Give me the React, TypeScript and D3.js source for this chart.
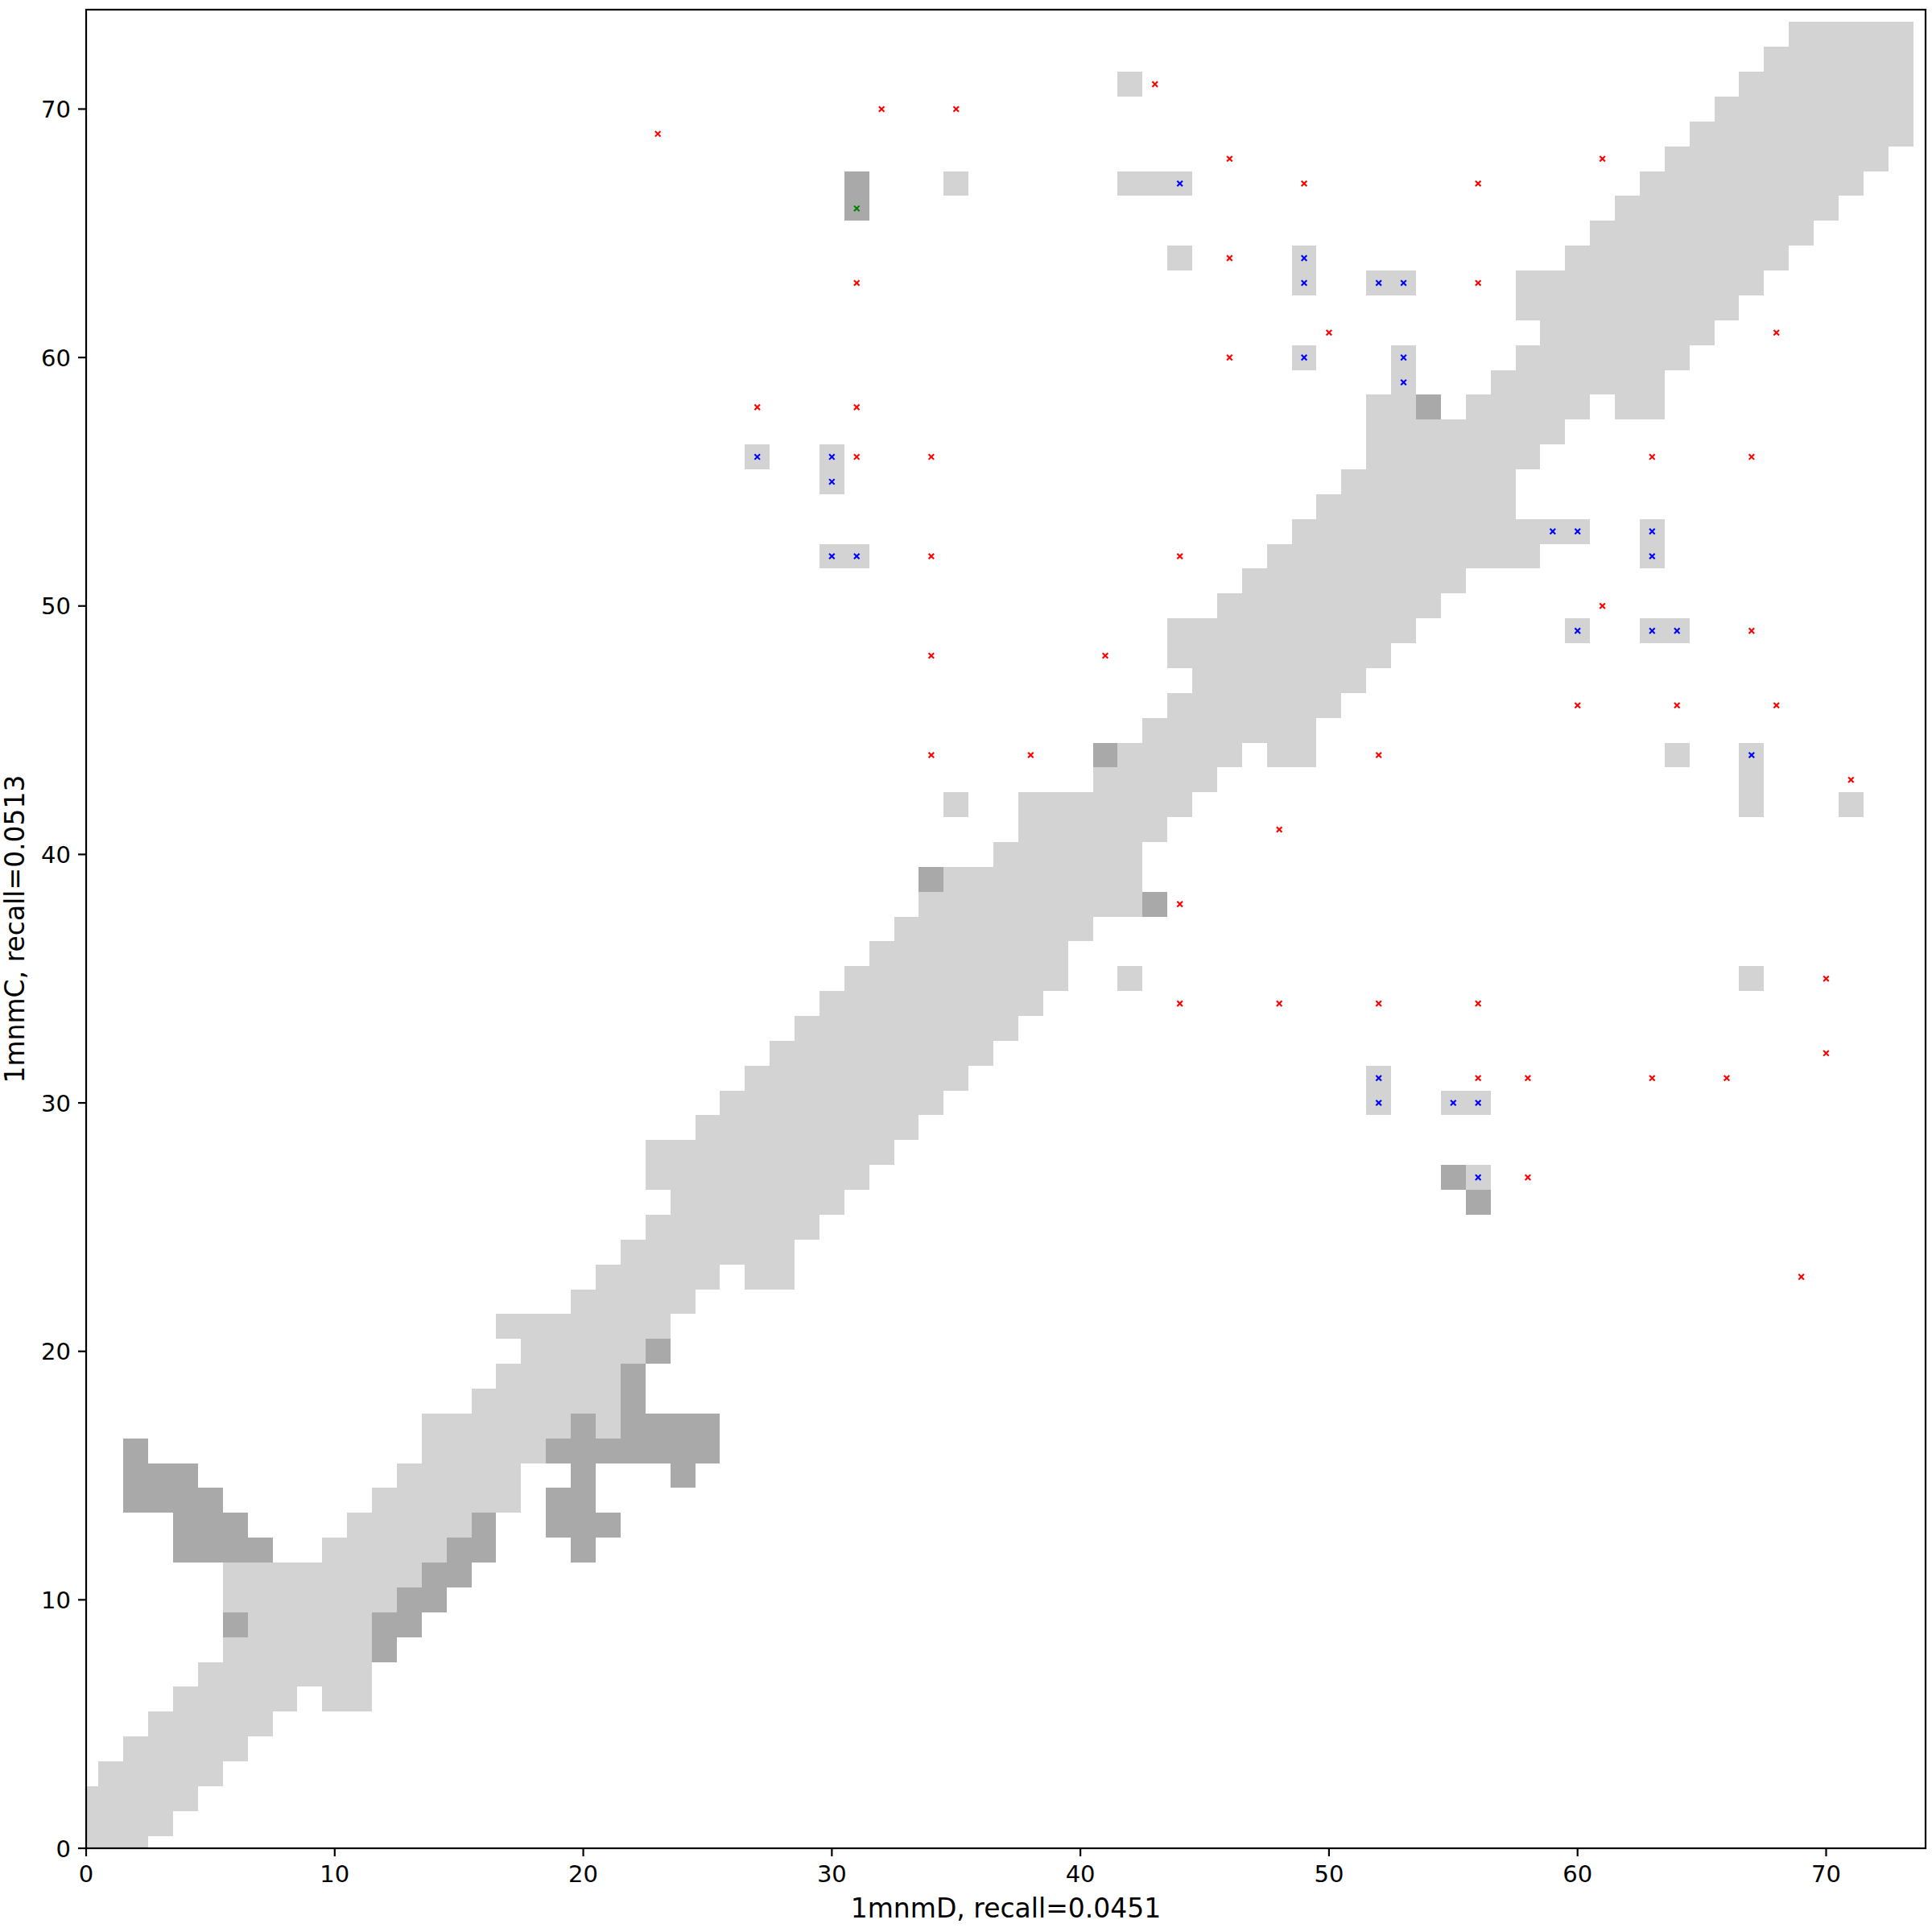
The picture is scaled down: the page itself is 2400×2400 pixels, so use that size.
import React from 'react';
import * as d3 from 'd3';

// contact map: [row (y), first column (x), last column (x)]
const lightRuns: [number, number, number][] = [
  [0, 0, 2], [1, 0, 3], [2, 0, 4], [3, 1, 5], [4, 2, 6], [5, 3, 7],
  [6, 4, 8], [6, 10, 11], [7, 5, 11], [8, 6, 11], [9, 7, 11], [10, 6, 12],
  [11, 6, 13], [12, 10, 14], [13, 11, 15], [14, 12, 17], [15, 13, 17],
  [16, 14, 18], [17, 14, 19], [17, 21, 21], [18, 16, 21], [19, 17, 21],
  [20, 18, 22], [21, 17, 23], [22, 20, 24], [23, 21, 25], [23, 27, 28],
  [24, 22, 28], [25, 23, 29], [26, 24, 30], [27, 23, 31], [27, 56, 56],
  [28, 23, 32], [29, 25, 33], [30, 26, 34], [30, 52, 52], [30, 55, 56],
  [31, 27, 35], [31, 52, 52], [32, 28, 36], [33, 29, 37], [34, 30, 38],
  [35, 31, 39], [35, 42, 42], [35, 67, 67], [36, 32, 39], [37, 33, 40],
  [38, 34, 42], [39, 35, 42], [40, 37, 42], [41, 38, 43],
  [42, 35, 35], [42, 38, 44], [42, 67, 67], [42, 71, 71],
  [43, 41, 45], [43, 67, 67], [44, 42, 46], [44, 48, 49], [44, 64, 64], [44, 67, 67],
  [45, 43, 49], [46, 44, 50], [47, 45, 51], [48, 44, 52],
  [49, 44, 53], [49, 60, 60], [49, 63, 64], [50, 46, 54], [51, 47, 55],
  [52, 30, 31], [52, 48, 58], [52, 63, 63], [53, 49, 60], [53, 63, 63],
  [54, 50, 57], [55, 30, 30], [55, 51, 57], [56, 27, 27], [56, 30, 30], [56, 52, 58],
  [57, 52, 59], [58, 52, 53], [58, 56, 60], [58, 62, 63],
  [59, 53, 53], [59, 57, 63], [60, 49, 49], [60, 53, 53], [60, 58, 64],
  [61, 59, 65], [62, 58, 66], [63, 49, 49], [63, 52, 53], [63, 58, 67],
  [64, 44, 44], [64, 49, 49], [64, 60, 68], [65, 61, 69], [66, 62, 70],
  [67, 35, 35], [67, 42, 44], [67, 63, 71], [68, 64, 72], [69, 65, 73],
  [70, 66, 73], [71, 42, 42], [71, 67, 73], [72, 68, 73], [73, 69, 73],
];

const darkRuns: [number, number, number][] = [
  [8, 12, 12], [9, 6, 6], [9, 12, 13], [10, 13, 14], [11, 14, 15],
  [12, 4, 7], [12, 15, 16], [12, 20, 20], [13, 4, 6], [13, 16, 16], [13, 19, 21],
  [14, 2, 5], [14, 19, 20], [15, 2, 4], [15, 20, 20], [15, 24, 24],
  [16, 2, 2], [16, 19, 25], [17, 20, 20], [17, 22, 25], [18, 22, 22],
  [19, 22, 22], [20, 23, 23], [26, 56, 56], [27, 55, 55], [38, 43, 43],
  [39, 34, 34], [44, 41, 41], [58, 54, 54], [66, 31, 31], [67, 31, 31],
];

// [x, y]
const redPoints: [number, number][] = [
  [23, 69], [32, 70], [35, 70], [43, 71], [46, 68], [61, 68], [49, 67], [56, 67],
  [46, 64], [31, 63], [56, 63], [50, 61], [68, 61], [46, 60], [27, 58], [31, 58],
  [31, 56], [34, 56], [63, 56], [67, 56], [34, 52], [44, 52], [61, 50], [67, 49],
  [34, 48], [41, 48], [60, 46], [64, 46], [68, 46], [34, 44], [38, 44], [52, 44],
  [71, 43], [48, 41], [44, 38], [70, 35], [44, 34], [48, 34], [52, 34], [56, 34],
  [70, 32], [56, 31], [58, 31], [63, 31], [66, 31], [58, 27], [69, 23],
];
const bluePoints: [number, number][] = [
  [44, 67], [49, 64], [49, 63], [52, 63], [53, 63], [49, 60], [53, 60], [53, 59],
  [27, 56], [30, 56], [30, 55], [59, 53], [60, 53], [63, 53], [63, 52], [30, 52],
  [31, 52], [60, 49], [63, 49], [64, 49], [67, 44], [52, 31], [52, 30], [55, 30],
  [56, 30], [56, 27],
];
const greenPoints: [number, number][] = [[31, 66]];

const xTicks = [0, 10, 20, 30, 40, 50, 60, 70];
const yTicks = [0, 10, 20, 30, 40, 50, 60, 70];
const xLabel = '1mnmD, recall=0.0451';
const yLabel = '1mnmC, recall=0.0513';

export default function App() {
  const W = 2400, H = 2400;
  const left = 107, right = 2392, top = 12, bottom = 2296;
  const x = d3.scaleLinear().domain([0, 74]).range([left, right]);
  const y = d3.scaleLinear().domain([0, 74]).range([bottom, top]);
  const font = 'DejaVu Sans, sans-serif';
  const fs = 29;
  const lfs = 33;

  const runRect = (r: [number, number, number], fill: string, k: string) => {
    const [row, a, b] = r;
    const x0 = x(a - 0.5), x1 = x(b + 0.5);
    const y0 = y(row + 0.5), y1 = y(row - 0.5);
    return <rect key={k} x={x0} y={y0} width={x1 - x0} height={y1 - y0} fill={fill} />;
  };

  const marker = (p: [number, number], color: string, k: string) => {
    const cx = x(p[0]), cy = y(p[1]);
    const s = 3.3;
    return (
      <path key={k} d={`M${cx - s},${cy - s}L${cx + s},${cy + s}M${cx - s},${cy + s}L${cx + s},${cy - s}`}
        stroke={color} strokeWidth={2.1} fill="none" />
    );
  };

  return (
    <svg width={W} height={H} style={{ position: 'absolute', left: 0, top: 0, background: '#fff' }}>
      <rect x={0} y={0} width={W} height={H} fill="#fff" />
      <defs>
        <clipPath id="plotclip">
          <rect x={left} y={top} width={right - left} height={bottom - top} />
        </clipPath>
      </defs>
      <g clipPath="url(#plotclip)" shapeRendering="crispEdges">
        {lightRuns.map((r, i) => runRect(r, '#d3d3d3', 'l' + i))}
        {darkRuns.map((r, i) => runRect(r, '#a9a9a9', 'd' + i))}
      </g>
      <g>
        {redPoints.map((p, i) => marker(p, '#ff0000', 'r' + i))}
        {bluePoints.map((p, i) => marker(p, '#0000ff', 'b' + i))}
        {greenPoints.map((p, i) => marker(p, '#008000', 'g' + i))}
      </g>
      <rect x={left} y={top} width={right - left} height={bottom - top} fill="none" stroke="#000" strokeWidth={2.2} />
      {xTicks.map((t) => (
        <g key={'xt' + t}>
          <line x1={x(t)} x2={x(t)} y1={bottom} y2={bottom + 10} stroke="#000" strokeWidth={2.2} />
          <text x={x(t)} y={bottom + 42} fontFamily={font} fontSize={fs} textAnchor="middle" fill="#000">{t}</text>
        </g>
      ))}
      {yTicks.map((t) => (
        <g key={'yt' + t}>
          <line x1={left - 10} x2={left} y1={y(t)} y2={y(t)} stroke="#000" strokeWidth={2.2} />
          <text x={left - 19} y={y(t) + 10.5} fontFamily={font} fontSize={fs} textAnchor="end" fill="#000">{t}</text>
        </g>
      ))}
      <text x={(left + right) / 2} y={2382} fontFamily={font} fontSize={lfs} textAnchor="middle" fill="#000">{xLabel}</text>
      <text transform={`translate(30,${(top + bottom) / 2}) rotate(-90)`} fontFamily={font} fontSize={lfs} textAnchor="middle" fill="#000">{yLabel}</text>
    </svg>
  );
}
